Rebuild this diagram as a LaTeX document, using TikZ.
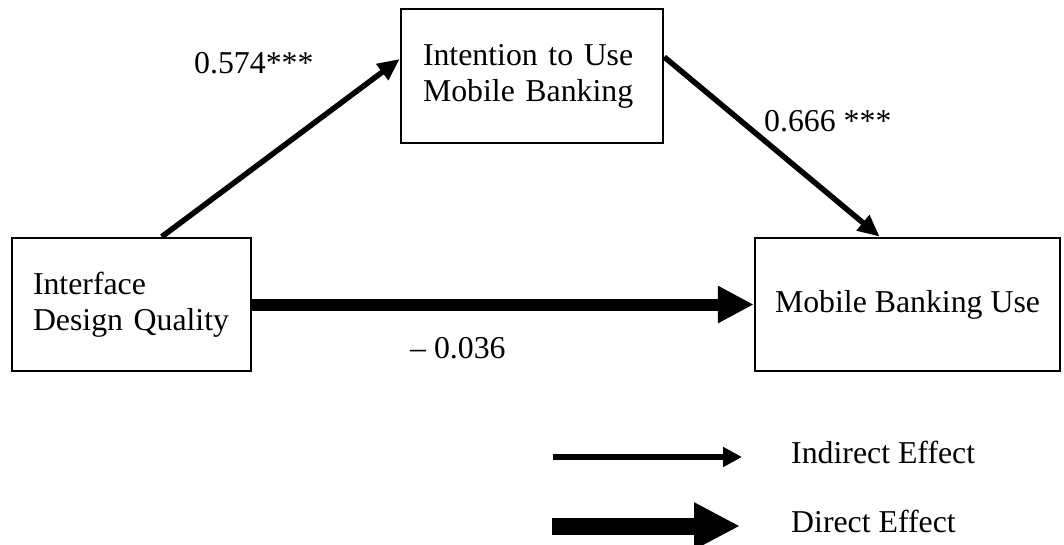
\documentclass[tikz,border=0pt]{standalone}
\usepackage{fontspec}
\setmainfont{Liberation Serif}
\usetikzlibrary{arrows.meta,calc}
\tikzset{
  box/.style={draw, line width=2.5pt, rectangle, inner ysep=0pt, font=\fontsize{31.8}{36}\selectfont},
  lbl/.style={anchor=base west, inner sep=0pt, font=\fontsize{31.8}{36}\selectfont},
  thinarrow/.style={line width=5.5pt, -{Triangle[length=22pt,width=19pt]}},
  thickarrow/.style={line width=12pt, -{Triangle[length=36pt,width=35pt]}},
}
\begin{document}
\begin{tikzpicture}[x=1pt,y=-1pt]
\useasboundingbox (0,0) rectangle (1064,544);
% boxes
\node[box, text width=197pt, inner xsep=21pt, align=left, minimum height=133pt] (ifq) at (131.5,304.5) {Interface\\Design Quality};
\node[box, text width=218pt, inner xsep=22pt, align=left, minimum height=134pt] (idu) at (532,76) {Intention to Use\\Mobile Banking};
\node[box, minimum width=305pt, minimum height=133pt, align=center] (mbu) at (907.5,304.5) {Mobile Banking Use};
% connectors
\draw[thinarrow] ([xshift=151pt]ifq.north west) -- ([yshift=17pt]idu.west);
\draw[thinarrow] ([yshift=19pt]idu.east) -- ([xshift=126pt]mbu.north west);
\draw[thickarrow] (ifq.east) -- (mbu.west);
% labels
\node[lbl] (l1) at (194,73) {0.574***};
\node[lbl] (l2) at (764,131) {0.666 ***};
\node[lbl] (l3) at (410,358) {– 0.036};
% legend
\coordinate (ia) at (553,457);
\coordinate (ib) at (742,457);
\coordinate (da) at (552,526);
\coordinate (db) at (740,526);
\draw[line width=6pt, -{Triangle[length=19pt,width=19pt]}] (ia) -- (ib);
\draw[line width=17pt, -{Triangle[length=46pt,width=44pt]}] (da) -- (db);
\node[lbl] (t1) at (791,463) {Indirect Effect};
\node[lbl] (t2) at (791,532) {Direct Effect};
\end{tikzpicture}
\end{document}
